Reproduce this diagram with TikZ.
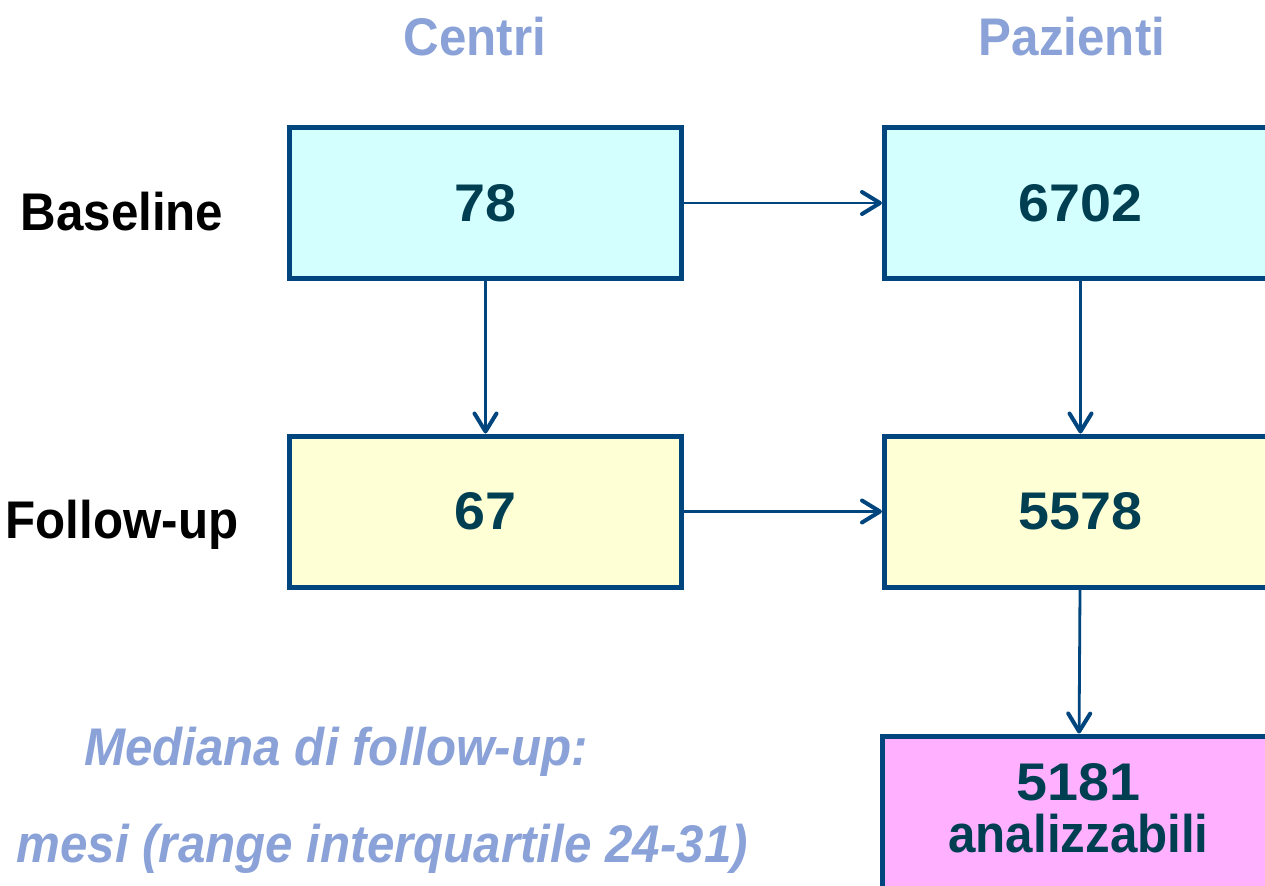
\documentclass[tikz,border=0pt]{standalone}
\usepackage{fontspec}
\setmainfont{Liberation Sans}[FakeStretch=0.93]
\newfontfamily\cifre{Liberation Sans}[FakeStretch=1.05]
\usetikzlibrary{arrows.meta}
\definecolor{bordo}{HTML}{00457D}
\definecolor{cifra}{HTML}{003E52}
\definecolor{lilla}{HTML}{8AA2D8}
\definecolor{celeste}{HTML}{D4FFFF}
\definecolor{giallino}{HTML}{FFFFD6}
\definecolor{rosa}{HTML}{FFB0FF}

\begin{document}
\begin{tikzpicture}[x=0.5pt,y=-0.5pt,
	box/.style={draw=bordo,line width=2.5pt,minimum width=196pt,minimum height=75.5pt,inner sep=0pt,align=center,text=cifra,font=\fontsize{26.5}{26}\selectfont\cifre\bfseries},
	testo/.style={inner sep=0pt,align=center,text=cifra,font=\fontsize{26.5}{26}\selectfont\bfseries},
	freccia/.style={draw=bordo,line width=1.4pt,-{Straight Barb[length=9pt,width=11pt,line width=2pt,round]}},
	etichetta/.style={anchor=base,font=\fontsize{26.5}{30}\selectfont\bfseries},
	titolo/.style={etichetta,text=lilla},
	nota/.style={anchor=base,text=lilla,font=\fontsize{26.5}{30}\selectfont\bfseries\itshape}]
	\useasboundingbox (0,0) rectangle (1265,885);
	\clip (0,0) rectangle (1265,885);
	\node[titolo] (T1) at (475,55) {Centri};
	\node[titolo] (T2) at (1072,55) {Pazienti};
	\node[etichetta] (L1) at (122,230) {Baseline};
	\node[etichetta] (L2) at (122,538) {Follow-up};
	\node[box,fill=celeste] (A) at (485.5,203) {78};
	\node[box,fill=celeste] (B) at (1080.5,203) {6702};
	\node[box,fill=giallino] (C) at (485.5,511.5) {67};
	\node[box,fill=giallino] (D) at (1080.5,511.5) {5578};
	\node[box,fill=rosa,anchor=north,minimum height=90pt] (E) at (1078.5,733.5) {};
	\node[testo] (E1) at (1078.5,808) {{\cifre 5181}\\analizzabili};
	\node[nota] (N1) at (336,765) {Mediana di follow-up:};
	\node[nota,anchor=base east] (N2) at (755,862) {mesi (range interquartile 24-31)};
	\draw[freccia] (A) -- (B);
	\draw[freccia] (A) -- (C);
	\draw[freccia] (B) -- (D);
	\draw[freccia] (C) -- (D);
	\draw[freccia] (D) -- (E);
\end{tikzpicture}
\end{document}
